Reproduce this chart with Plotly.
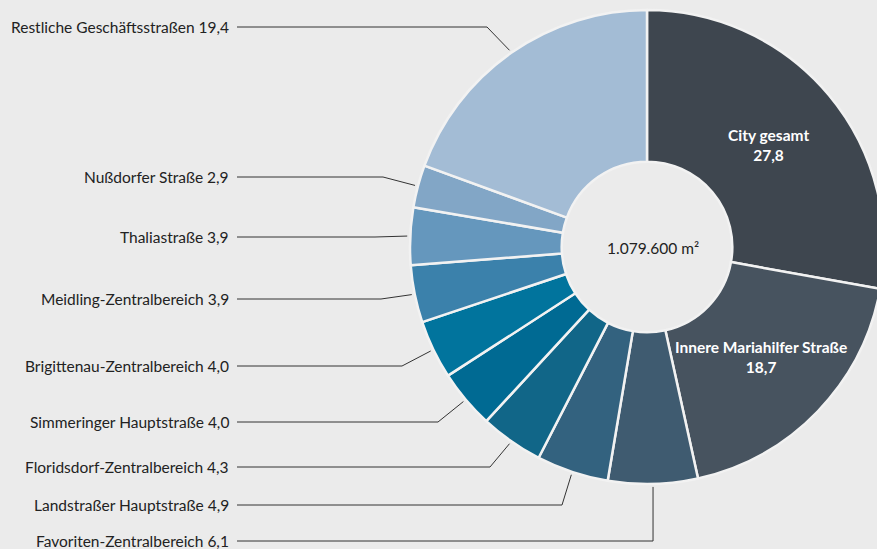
import math
import plotly.graph_objects as go

# ---- data ----
categories = ["City gesamt", "Innere Mariahilfer Straße", "Favoriten-Zentralbereich",
              "Landstraßer Hauptstraße", "Floridsdorf-Zentralbereich", "Simmeringer Hauptstraße",
              "Brigittenau-Zentralbereich", "Meidling-Zentralbereich", "Thaliastraße",
              "Nußdorfer Straße", "Restliche Geschäftsstraßen"]
values = [27.8, 18.7, 6.1, 4.9, 4.3, 4.0, 4.0, 3.9, 3.9, 2.9, 19.4]
inside_labelled = [True, True, False, False, False, False, False, False, False, False, False]
total_label = "1.079.600 m²"

# ---- style ----
colors = ["#3e464f", "#47535f", "#3f5b70", "#33627f", "#116688", "#006a93",
          "#01749d", "#3b81ab", "#6597bd", "#82a6c6", "#a3bcd5"]
W, H = 890, 549          # page is viewed in an 877 px window: the pie runs off the right edge
FONT = "Lato"
# pie box in pixels (left, right, top, bottom)
PX0, PX1, PY0, PY1 = 410, 884, 10, 484
# outside label layout: pixel y of label, pixel x of leader elbow (None = vertical)
label_y = {2: 541, 3: 505, 4: 467, 5: 422, 6: 366, 7: 299, 8: 237, 9: 177, 10: 27}
elbow_x = {2: None, 3: 562, 4: 490, 5: 438, 6: 402, 7: 381, 8: 375, 9: 383, 10: 487}
LABEL_RIGHT = 231
LINE_START = 237
INSIDE_R = 0.67   # fraction of outer radius for inside labels


def fmt(v):
    return f"{v:.1f}".replace(".", ",")


def px(x):
    return x / W


def py(y):
    return 1 - y / H


fig = go.Figure(go.Pie(
    labels=categories,
    values=values,
    textinfo="none",
    sort=False,
    direction="clockwise",
    rotation=0,
    hole=0.36,
    marker=dict(colors=colors, line=dict(color="#f2f2f2", width=2.5)),
    domain=dict(x=[px(PX0), px(PX1)], y=[py(PY1), py(PY0)]),
    hoverinfo="skip",
))

# geometry of pie for labels / leader lines
r = min(PX1 - PX0, PY1 - PY0) / 2
cx = (PX0 + PX1) / 2
cy = (PY0 + PY1) / 2
total = sum(values)

annotations = [dict(x=px(cx), y=py(cy + 1), xref="paper", yref="paper", text=total_label,
                    xanchor="center", yanchor="middle", xshift=6,
                    showarrow=False, font=dict(family=FONT, size=15.5, color="#222222"))]
shapes = []
cum = 0
for i, v in enumerate(values):
    mid = (cum + v / 2) / total * 2 * math.pi
    cum += v
    if inside_labelled[i]:
        tx = cx + INSIDE_R * r * math.sin(mid)
        ty = cy - INSIDE_R * r * math.cos(mid)
        annotations.append(dict(x=px(tx), y=py(ty), xref="paper", yref="paper",
                                xanchor="center", yanchor="middle", showarrow=False,
                                text=f"<b>{categories[i]}<br>{fmt(v)}</b>",
                                font=dict(family=FONT, size=15.5, color="white")))
    if i not in label_y:
        continue
    ex = cx + (r + 3) * math.sin(mid)
    ey = cy - (r + 3) * math.cos(mid)
    ly = label_y[i]
    bx = ex if elbow_x[i] is None else elbow_x[i]
    path = f"M {px(LINE_START)},{py(ly)} L {px(bx)},{py(ly)} L {px(ex)},{py(ey)}"
    shapes.append(dict(type="path", path=path, xref="paper", yref="paper",
                       line=dict(color="#333333", width=1)))
    annotations.append(dict(x=px(LABEL_RIGHT), y=py(ly), xref="paper", yref="paper",
                            xanchor="right", yanchor="middle", showarrow=False,
                            text=f"{categories[i]} {fmt(v)}",
                            font=dict(family=FONT, size=15.5, color="#222222")))

fig.update_layout(
    width=W, height=H,
    margin=dict(l=0, r=0, t=0, b=0),
    paper_bgcolor="#ebebeb",
    plot_bgcolor="#ebebeb",
    showlegend=False,
    annotations=annotations,
    shapes=shapes,
    hovermode=False,
)

fig.write_html("out.html",
               config={"displayModeBar": False},
               post_script="document.body.style.margin='0';"
                           "document.body.style.overflow='hidden';"
                           "document.documentElement.style.overflow='hidden';"
                           "document.body.style.background='#ebebeb';")
